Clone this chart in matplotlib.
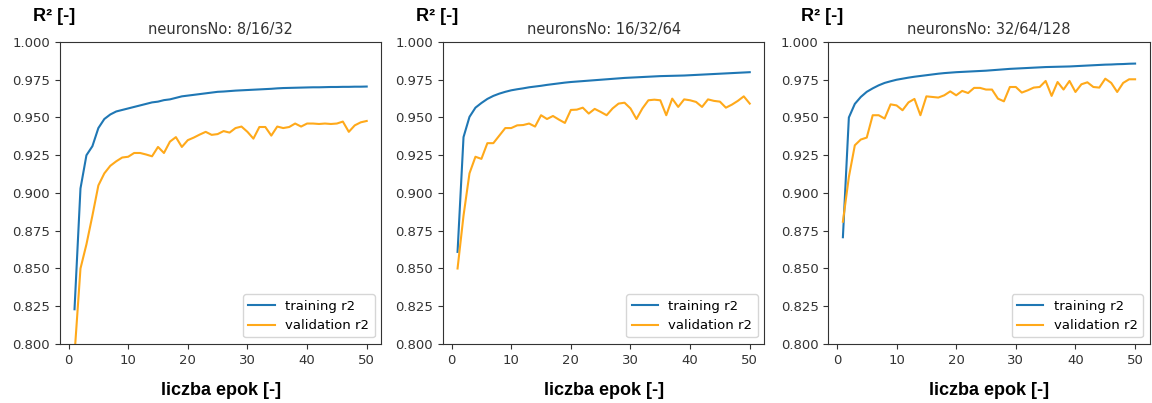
import numpy as np
import matplotlib
matplotlib.use("Agg")
import matplotlib.pyplot as plt

epochs = list(range(1, 51))

titles = ["neuronsNo: 8/16/32", "neuronsNo: 16/32/64", "neuronsNo: 32/64/128"]

train_8 = [0.823, 0.903, 0.925, 0.931, 0.943, 0.949, 0.952, 0.954, 0.955, 0.956,
           0.957, 0.958, 0.959, 0.960, 0.9605, 0.9615, 0.962, 0.963, 0.964, 0.9645,
           0.965, 0.9655, 0.966, 0.9665, 0.967, 0.9672, 0.9675, 0.9678, 0.968, 0.9682,
           0.9684, 0.9686, 0.9688, 0.969, 0.9693, 0.9695, 0.9696, 0.9697, 0.9698, 0.9699,
           0.970, 0.970, 0.9701, 0.9702, 0.9702, 0.9703, 0.9703, 0.9704, 0.9704, 0.9705]
val_8 = [0.793, 0.850, 0.866, 0.885, 0.905, 0.913, 0.918, 0.921, 0.9235, 0.924,
         0.9265, 0.9265, 0.9255, 0.9243, 0.9305, 0.9265, 0.934, 0.937, 0.9305, 0.935,
         0.9367, 0.9387, 0.9405, 0.9385, 0.939, 0.941, 0.940, 0.943, 0.944, 0.9405,
         0.936, 0.9437, 0.9437, 0.938, 0.944, 0.943, 0.9437, 0.946, 0.944, 0.946,
         0.946, 0.9457, 0.946, 0.9457, 0.946, 0.9473, 0.9405, 0.9448, 0.9468, 0.9477]

train_16 = [0.861, 0.937, 0.9504, 0.9565, 0.9596, 0.9623, 0.9643, 0.9658, 0.967, 0.968,
            0.9687, 0.9693, 0.970, 0.9705, 0.971, 0.9716, 0.9721, 0.9726, 0.9731, 0.9735,
            0.9738, 0.9741, 0.9744, 0.9747, 0.975, 0.9753, 0.9756, 0.9759, 0.9762, 0.9764,
            0.9766, 0.9768, 0.977, 0.9772, 0.9774, 0.9775, 0.9776, 0.9777, 0.9778, 0.978,
            0.9782, 0.9784, 0.9786, 0.9788, 0.979, 0.9792, 0.9794, 0.9796, 0.9798, 0.980]
val_16 = [0.850, 0.885, 0.913, 0.924, 0.9226, 0.933, 0.933, 0.938, 0.943, 0.943,
          0.9448, 0.945, 0.946, 0.944, 0.9515, 0.949, 0.951, 0.9486, 0.9464, 0.955,
          0.9552, 0.9565, 0.9526, 0.9557, 0.9537, 0.9515, 0.956, 0.9592, 0.9598, 0.956,
          0.949, 0.956, 0.9614, 0.9618, 0.9614, 0.9515, 0.9625, 0.957, 0.962, 0.9614,
          0.9603, 0.957, 0.962, 0.961, 0.9605, 0.9565, 0.9585, 0.961, 0.964, 0.9592]

train_32 = [0.8707, 0.950, 0.959, 0.9636, 0.967, 0.9693, 0.9713, 0.9729, 0.974, 0.975,
            0.9757, 0.9764, 0.977, 0.9775, 0.978, 0.9785, 0.979, 0.9794, 0.9797, 0.980,
            0.9802, 0.9804, 0.9806, 0.9808, 0.981, 0.9813, 0.9816, 0.9819, 0.9822, 0.9824,
            0.9826, 0.9828, 0.983, 0.9832, 0.9834, 0.9835, 0.9836, 0.9837, 0.9838, 0.984,
            0.9842, 0.9844, 0.9846, 0.9848, 0.985, 0.9851, 0.9853, 0.9854, 0.9856, 0.9857]
val_32 = [0.881, 0.9106, 0.9316, 0.9354, 0.9367, 0.9515, 0.9515, 0.9493, 0.9587, 0.958,
          0.9548, 0.960, 0.9623, 0.9515, 0.964, 0.9636, 0.9632, 0.9647, 0.9673, 0.9647,
          0.9676, 0.9662, 0.9696, 0.9696, 0.9685, 0.9685, 0.9625, 0.9607, 0.9702, 0.9702,
          0.9665, 0.968, 0.9698, 0.9702, 0.9742, 0.9643, 0.9735, 0.9685, 0.9742, 0.9669,
          0.972, 0.9733, 0.9702, 0.9698, 0.9757, 0.9729, 0.9669, 0.9729, 0.9753, 0.9753]

train_all = [train_8, train_16, train_32]
val_all = [val_8, val_16, val_32]

fig = plt.figure(figsize=(11.52, 4.03), dpi=100)
lefts = [0.052, 0.3845, 0.719]

for i in range(3):
    ax = fig.add_axes([lefts[i], 0.1464, 0.279, 0.7494])
    ax.plot(epochs, train_all[i], color='#1f77b4', label='training r2')
    ax.plot(epochs, val_all[i], color='#ffa91a', label='validation r2')
    ax.set_ylim(0.8, 1.0)
    ax.set_yticks(np.arange(0.8, 1.0001, 0.025))
    ax.set_yticklabels(["%.3f" % t for t in np.arange(0.8, 1.0001, 0.025)])
    ax.set_xticks([0, 10, 20, 30, 40, 50])
    ax.tick_params(labelsize=9.5, colors='#333333')
    ax.set_title(titles[i], fontsize=10.5, color='#333333')
    ax.set_xlabel("liczba epok [-]", fontsize=13, fontweight='bold',
                  family='Liberation Sans', labelpad=11)
    ax.text(-0.085, 1.083, "R² [-]", transform=ax.transAxes, fontsize=13,
            fontweight='bold', family='Liberation Sans', ha='left', va='center')
    ax.legend(loc='lower right', fontsize=9.5)
    for s in ax.spines.values():
        s.set_color('#333333')

fig.savefig("out.png", dpi=100)
